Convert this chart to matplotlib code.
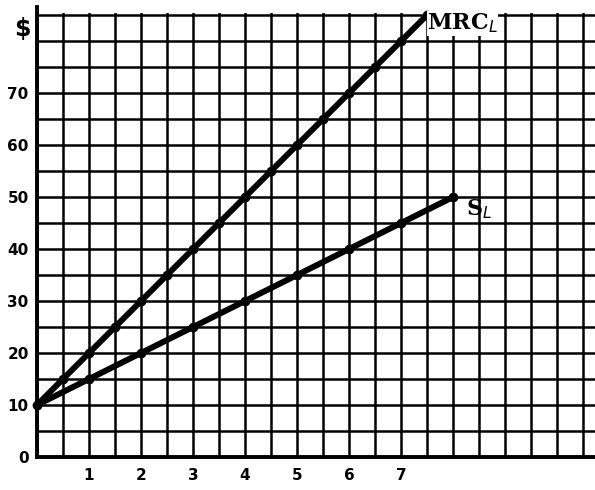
import numpy as np
import matplotlib
matplotlib.use("Agg")
import matplotlib.pyplot as plt
from matplotlib.ticker import MultipleLocator

# Data
labor_mrc = [0, 0.5, 1, 1.5, 2, 2.5, 3, 3.5, 4, 4.5, 5, 5.5, 6, 6.5, 7, 7.5]
mrc_values = [10, 15, 20, 25, 30, 35, 40, 45, 50, 55, 60, 65, 70, 75, 80, 85]
labor_sl = [0, 1, 2, 3, 4, 5, 6, 7, 8]
sl_values = [10, 15, 20, 25, 30, 35, 40, 45, 50]
x_tick_vals = [1, 2, 3, 4, 5, 6, 7]
x_tick_labels = ["1", "2", "3", "4", "5", "6", "7"]
y_tick_vals = [0, 10, 20, 30, 40, 50, 60, 70]
y_tick_labels = ["0", "10", "20", "30", "40", "50", "60", "70"]

fig = plt.figure(figsize=(5.95, 4.9), dpi=100)
ax = fig.add_axes([37 / 595, 33 / 490, (595 - 37) / 595, (457 - 13) / 490])
ax.set_xlim(0, 10.73)
ax.set_ylim(0, 85.4)

font = dict(family="DejaVu Sans", weight="bold", size=11)

ax.set_xticks(x_tick_vals)
ax.set_xticklabels(x_tick_labels, **font)
ax.set_yticks(y_tick_vals)
ax.set_yticklabels(y_tick_labels, **font)
ax.xaxis.set_minor_locator(MultipleLocator(0.5))
ax.yaxis.set_minor_locator(MultipleLocator(5))
ax.tick_params(which="both", length=0)
ax.tick_params(axis="x", pad=8)
ax.tick_params(axis="y", pad=6)
ax.grid(which="both", color="black", linewidth=1.8)
ax.set_axisbelow(True)

for side in ["top", "right"]:
    ax.spines[side].set_visible(False)
ax.spines["left"].set_linewidth(2.8)
ax.spines["bottom"].set_linewidth(2.8)
ax.spines["left"].set_bounds(0, 86.5)

ax.plot(labor_mrc, mrc_values, color="black", linewidth=4.3,
        marker="o", markersize=6, solid_capstyle="butt", zorder=3,
        clip_on=False)
ax.plot(labor_sl, sl_values, color="black", linewidth=4.3,
        marker="o", markersize=6, solid_capstyle="butt", zorder=3)

ax.text(7.5, 83.4, r"MRC$_L$", fontsize=16, fontweight="bold",
        family="DejaVu Serif", va="center", ha="left",
        bbox=dict(facecolor="white", edgecolor="none", pad=0.3), zorder=4)
ax.text(8.25, 47.6, r"S$_L$", fontsize=16, fontweight="bold",
        family="DejaVu Serif", va="center", ha="left", zorder=4)
ax.text(-0.28, 82.3, "$", fontsize=17, fontweight="bold",
        family="DejaVu Sans", va="center", ha="center", clip_on=False)

fig.savefig("out.png", dpi=100)
